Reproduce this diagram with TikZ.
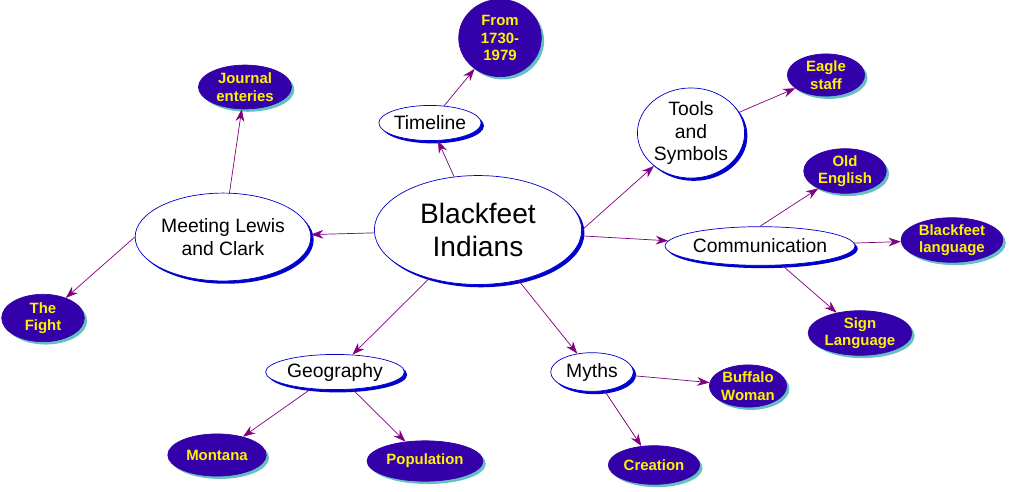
\documentclass[tikz,border=0pt]{standalone}
\usepackage{fontspec}
\setmainfont{Liberation Sans}
\usetikzlibrary{shapes.geometric,shadows,arrows.meta}
\definecolor{topicblue}{HTML}{0000CC}
\definecolor{leafpurple}{HTML}{3300AA}
\definecolor{leafshadow}{HTML}{66C0C0}
\definecolor{linkpurple}{HTML}{800080}
\tikzset{
  topic/.style = {ellipse, draw=topicblue, fill=white, inner sep=0pt,
    align=center, font=\fontsize{11}{13}\selectfont,
    drop shadow={shadow xshift=1.6pt, shadow yshift=-1.6pt, fill=topicblue, opacity=1}},
  leaf/.style = {ellipse, draw=leafpurple, fill=leafpurple, inner sep=0pt,
    align=center, text=yellow, font=\bfseries\fontsize{8.5}{10}\selectfont,
    drop shadow={shadow xshift=1.6pt, shadow yshift=-1.6pt, fill=leafshadow, opacity=1}},
  link/.style = {draw=linkpurple, -{Stealth[length=7pt,width=5pt]}}
}
\begin{document}
\begin{tikzpicture}[x=0.02cm, y=-0.02cm]
  \useasboundingbox (0,0) rectangle (1011,491);

  \node[topic, minimum width=208pt*0.567/0.567*0.02cm/0.02cm*0+118pt, minimum height=62pt,
        font=\fontsize{16}{19}\selectfont] (blackfeet) at (478,230) {Blackfeet\\Indians};
  \node[topic, minimum width=100pt, minimum height=50pt] (lewis) at (223,237) {Meeting Lewis\\and Clark};
  \node[topic, minimum width=47pt, minimum height=20pt] (timeline) at (430,123) {Timeline};
  \node[topic, minimum width=61pt, minimum height=50pt] (tools) at (691,133) {Tools\\and\\Symbols};
  \node[topic, minimum width=108pt, minimum height=22pt] (comm) at (760,246) {Communication};
  \node[topic, minimum width=79pt, minimum height=20pt] (geo) at (335,372) {Geography};
  \node[topic, minimum width=47pt, minimum height=22pt] (myths) at (592,372) {Myths};

  \node[leaf, minimum width=47pt, minimum height=44pt] (years) at (500,38) {From\\1730-\\1979};
  \node[leaf, minimum width=44pt, minimum height=24pt] (eagle) at (826,75) {Eagle\\staff};
  \node[leaf, minimum width=47pt, minimum height=24pt] (english) at (845,171) {Old\\English};
  \node[leaf, minimum width=58pt, minimum height=23pt] (bflang) at (952,240) {Blackfeet\\language};
  \node[leaf, minimum width=59pt, minimum height=25pt] (sign) at (860,333) {Sign\\Language};
  \node[leaf, minimum width=53pt, minimum height=25pt] (journal) at (245,87) {Journal\\enteries};
  \node[leaf, minimum width=47pt, minimum height=27pt] (fight) at (43,318) {The\\Fight};
  \node[leaf, minimum width=44pt, minimum height=24pt] (buffalo) at (748,386) {Buffalo\\Woman};
  \node[leaf, minimum width=56pt, minimum height=24pt] (montana) at (217,455) {Montana};
  \node[leaf, minimum width=66pt, minimum height=23pt] (population) at (425,461) {Population};
  \node[leaf, minimum width=52pt, minimum height=22pt] (creation) at (654,465) {Creation};

  % links
  \draw[link] (blackfeet) -- (lewis);
  \draw[link] (blackfeet) -- (timeline);
  \draw[link] (timeline) -- (years);
  \draw[link] (blackfeet.east) -- (tools);
  \draw[link] (tools) -- (eagle);
  \draw[link] (blackfeet) -- (comm);
  \draw[link] (comm.north) -- (english);
  \draw[link] (comm) -- (bflang);
  \draw[link] (comm) -- (sign);
  \draw[link] (lewis) -- (journal);
  \draw[link] (lewis.west) -- (fight);
  \draw[link] (blackfeet) -- (geo);
  \draw[link] (blackfeet) -- (myths);
  \draw[link] (geo) -- (montana);
  \draw[link] (geo) -- (population);
  \draw[link] (myths) -- (buffalo);
  \draw[link] (myths) -- (creation);
\end{tikzpicture}
\end{document}
